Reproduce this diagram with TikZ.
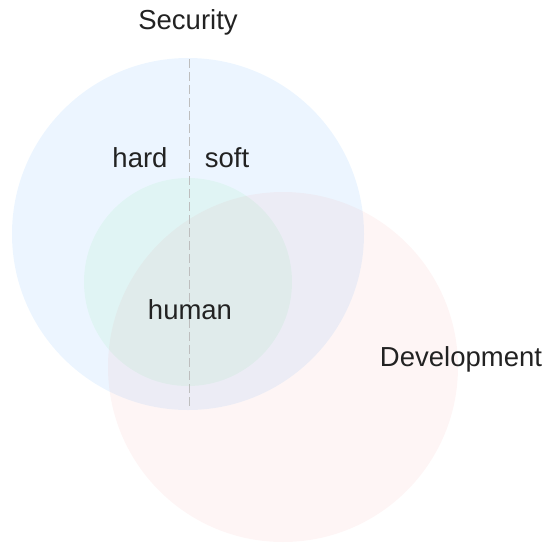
\documentclass[tikz,border=0pt]{standalone}
\usepackage{fontspec}
\setmainfont{Liberation Sans}
\definecolor{secblue}{RGB}{30,144,255}
\definecolor{devpink}{RGB}{240,90,90}
\definecolor{humgreen}{RGB}{70,225,100}
\definecolor{txt}{RGB}{34,34,34}
\definecolor{dashgray}{RGB}{190,190,190}
\tikzset{
  venn/.style={circle, draw=none, inner sep=0pt},
  lbl/.style={font=\fontsize{27.5}{32}\selectfont, text=txt, inner sep=0pt}
}
\begin{document}
\begin{tikzpicture}[x=1pt,y=-1pt]
\useasboundingbox (0,0) rectangle (548,544);
\node[venn, minimum size=352pt, fill=secblue, fill opacity=0.085] (sec) at (188,234) {};
\node[venn, minimum size=350pt, fill=devpink, fill opacity=0.06] (dev) at (283,367) {};
\node[venn, minimum size=208pt, fill=humgreen, fill opacity=0.07] (hum) at (188,282) {};
\coordinate (dtop) at (189,59);
\coordinate (dbot) at (189,409);
\draw[dashgray, line width=0.9pt, dash pattern=on 9pt off 4pt] (dtop) -- (dbot);
\node[lbl] (security) at (188,22) {Security};
\node[lbl] (hard) at (140,158) {hard};
\node[lbl] (soft) at (227,158) {soft};
\node[lbl] (human) at (190,310) {human};
\node[lbl] (development) at (461,359) {Development};
\end{tikzpicture}
\end{document}
